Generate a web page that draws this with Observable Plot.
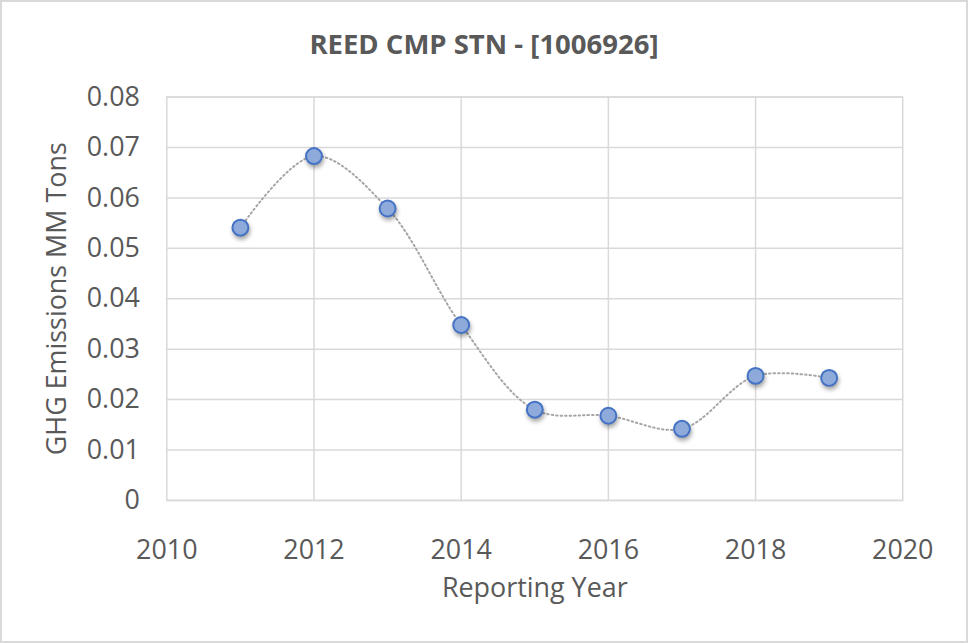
<!DOCTYPE html>
<html>
<head>
<meta charset="utf-8">
<script src="https://cdn.jsdelivr.net/npm/d3@7"></script>
<script src="https://cdn.jsdelivr.net/npm/@observablehq/plot@0.6"></script>
<style>
  html, body { margin: 0; padding: 0; background: #fff; }
  #chart { position: relative; width: 968px; height: 643px; box-sizing: border-box; border: 2px solid #d9d9d9; overflow: hidden; font-family: "Open Sans", sans-serif; }
  #title { position: absolute; left: 0; right: 0; top: 28px; text-align: center; font-size: 27.5px; line-height: 28px; font-weight: bold; color: #595959; }
  #chart svg { position: absolute; left: -2px; top: -2px; }
  .pts circle { filter: drop-shadow(1px 3px 2px rgba(0,0,0,0.35)); }
</style>
</head>
<body>
<div id="chart"><div id="title">REED CMP STN - [1006926]</div></div>
<script>
const years = [2011, 2012, 2013, 2014, 2015, 2016, 2017, 2018, 2019];
const emissions = [0.0541, 0.0683, 0.0579, 0.0348, 0.0180, 0.0168, 0.0142, 0.0247, 0.0243];
const xTicks = [2010, 2012, 2014, 2016, 2018, 2020];
const yTicks = [0, 0.01, 0.02, 0.03, 0.04, 0.05, 0.06, 0.07, 0.08];
const xGrid = [2012, 2014, 2016, 2018];

const data = years.map((y, i) => ({year: y, value: emissions[i]}));
const grey = "#d9d9d9";
const textCol = "#595959";
const fmtX = d => String(d);
const fmtY = d => d === 0 ? "0" : d.toFixed(2);

const plot = Plot.plot({
  width: 968,
  height: 643,
  marginLeft: 167,
  marginRight: 62,
  marginTop: 97,
  marginBottom: 141,
  style: {fontFamily: "'Open Sans', sans-serif", fontSize: "27px", color: textCol, background: "transparent"},
  x: {domain: [2010, 2020], ticks: xTicks, tickFormat: fmtX, label: null},
  y: {domain: [0, 0.08], ticks: yTicks, tickFormat: fmtY, label: null},
  marks: [
    Plot.gridY(yTicks, {stroke: grey, strokeOpacity: 1, strokeWidth: 1.5}),
    Plot.gridX(xGrid, {stroke: grey, strokeOpacity: 1, strokeWidth: 1.5}),
    Plot.frame({stroke: grey, strokeWidth: 1.5}),
    Plot.axisX(xTicks, {tickSize: 0, tickPadding: 40, tickFormat: fmtX, fill: textCol, fontSize: 27, label: null}),
    Plot.axisY(yTicks, {tickSize: 0, tickPadding: 27, tickFormat: fmtY, fill: textCol, fontSize: 27, label: null}),
    Plot.text(["Reporting Year"], {frameAnchor: "bottom", lineAnchor: "middle", dy: 88, fill: textCol, fontSize: 27}),
    Plot.text(["GHG Emissions MM Tons"], {frameAnchor: "left", dx: -110, rotate: -90, textAnchor: "middle", fill: textCol, fontSize: 27}),
    Plot.line(data, {x: "year", y: "value", curve: "catmull-rom", stroke: "#a6a6a6", strokeWidth: 2, strokeDasharray: "1.5 3"}),
    Plot.dot(data, {x: "year", y: "value", r: 8, fill: "#8eaadb", stroke: "#4472c4", strokeWidth: 2, className: "pts"})
  ]
});
document.getElementById("chart").appendChild(plot);
</script>
</body>
</html>
